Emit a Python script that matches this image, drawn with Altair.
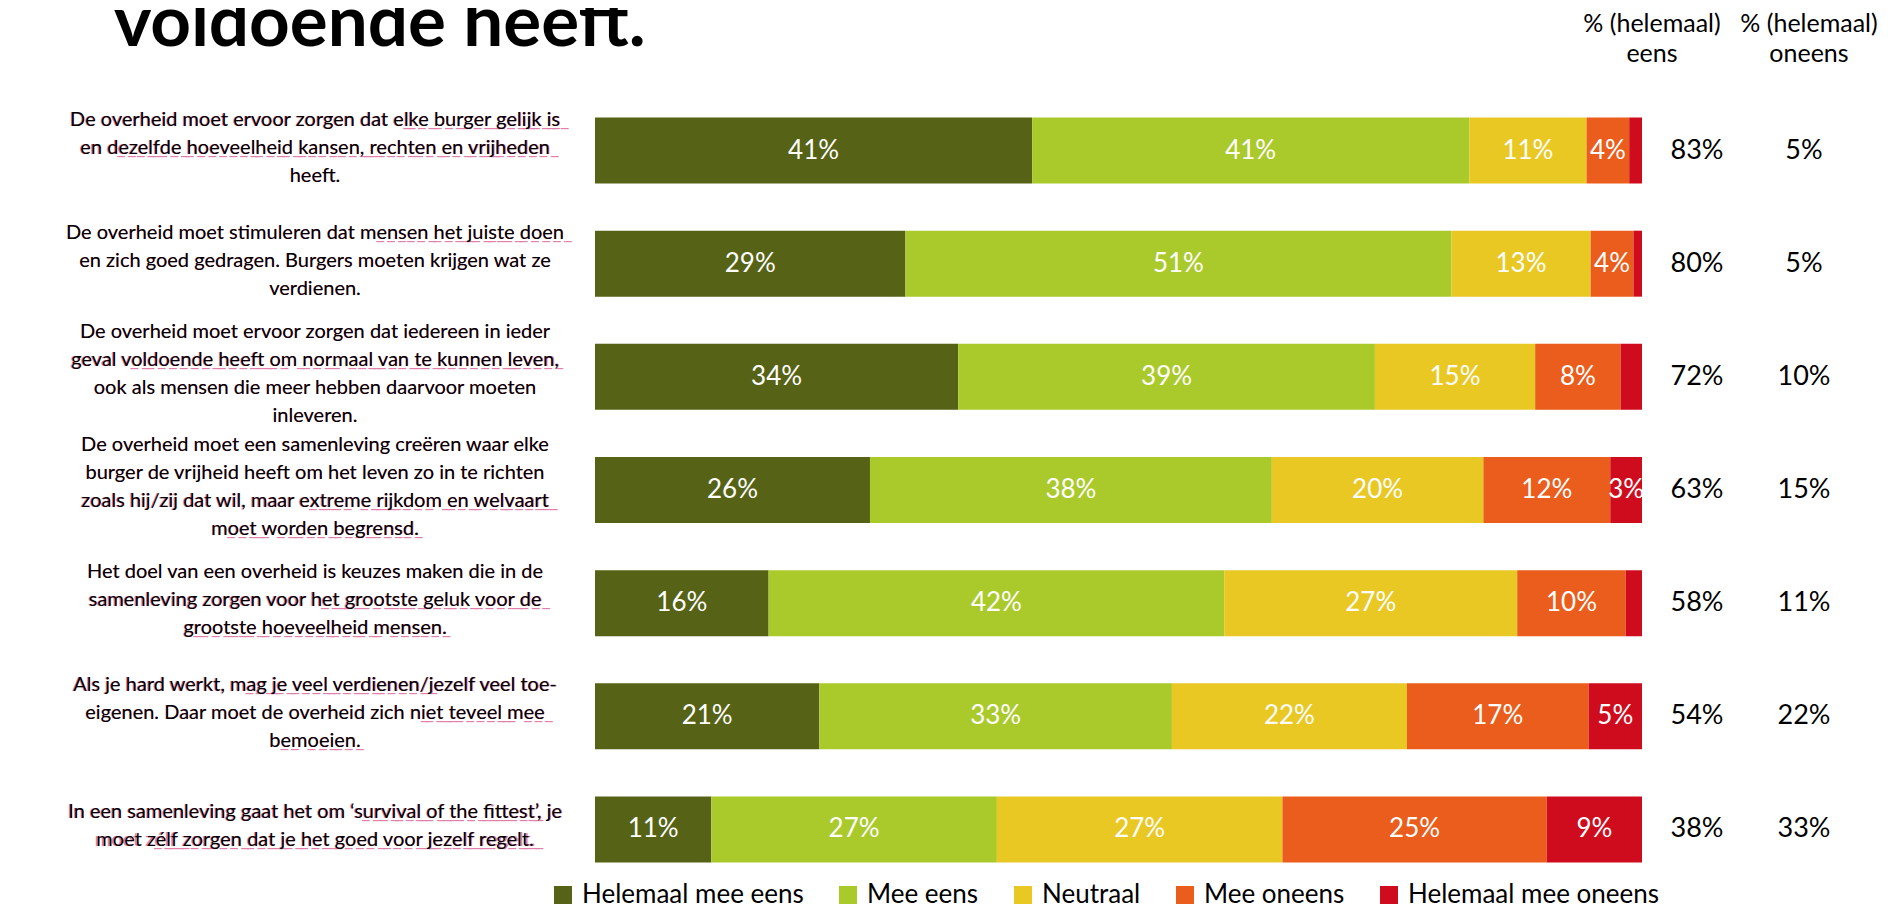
import altair as alt
import pandas as pd

# ---------------- data ----------------
categories = ["Helemaal mee eens", "Mee eens", "Neutraal", "Mee oneens", "Helemaal mee oneens"]
colors = ["#566216", "#AACA2C", "#E9C824", "#EA5D1C", "#CF0C1E"]

# Statement lines; text inside [ ] is underlined in pink
statements = [
    ["De overheid moet ervoor zorgen dat [elke burger gelijk is]",
     "en [dezelfde hoeveelheid kansen, rechten en vrijheden]",
     "heeft."],
    ["De overheid moet stimuleren dat [mensen het juiste doen]",
     "en zich goed gedragen. Burgers moeten krijgen wat ze",
     "verdienen."],
    ["De overheid moet ervoor zorgen dat iedereen in ieder",
     "geval [voldoende heeft om normaal van te kunnen leven],",
     "ook als mensen die meer hebben daarvoor moeten",
     "inleveren."],
    ["De overheid moet een samenleving creëren waar elke",
     "burger de vrijheid heeft om het leven zo in te richten",
     "zoals hij/zij dat wil, maar [extreme rijkdom en welvaart]",
     "[moet worden begrensd]."],
    ["Het doel van een overheid is keuzes maken die in de",
     "samenleving zorgen voor [het grootste geluk voor de]",
     "[grootste hoeveelheid mensen]."],
    ["Als je hard werkt, [mag je veel verdienen/]jezelf veel toe-",
     "eigenen. Daar moet de overheid zich [niet teveel mee]",
     "[bemoeien]."],
    ["In een samenleving gaat het om ‘[survival of the fittest]’, je",
     "moet [zélf zorgen dat je het goed voor jezelf regelt.]"],
]

helemaal_eens = [41, 29, 34, 26, 16, 21, 11]
mee_eens = [41, 51, 39, 38, 42, 33, 27]
neutraal = [11, 13, 15, 20, 27, 22, 27]
mee_oneens = [4, 4, 8, 12, 10, 17, 25]
helemaal_oneens = [1.2, 0.8, 2, 3, 1.5, 5, 9]

totaal_eens = [83, 80, 72, 63, 58, 54, 38]
totaal_oneens = [5, 5, 10, 15, 11, 22, 33]

header_eens = ["% (helemaal)", "eens"]
header_oneens = ["% (helemaal)", "oneens"]
title_text = "voldoende heeft."

FONT = "Lato"
LINE_H = 28

# ---------------- tables ----------------
series = [helemaal_eens, mee_eens, neutraal, mee_oneens, helemaal_oneens]
rows = []
for i in range(len(statements)):
    for j, cat in enumerate(categories):
        rows.append({"stmt": i, "cat": cat, "order": j, "value": series[j][i]})
df = pd.DataFrame(rows)


def plain(line):
    return line.replace("[", "").replace("]", "")


def underline(line):
    out, on = [], False
    for ch in line:
        if ch == "[":
            on = True
        elif ch == "]":
            on = False
        else:
            out.append(ch + ("\u0332" if on else ""))
    return "".join(out)


df_stmt = pd.DataFrame({
    "stmt": list(range(len(statements))),
    "n": [len(s) for s in statements],
    "lines": [[plain(l) for l in s] for s in statements],
    "ulines": [[underline(l) for l in s] for s in statements],
})
df_tot = pd.DataFrame({
    "stmt": list(range(len(statements))),
    "eens": [f"{v}%" for v in totaal_eens],
    "oneens": [f"{v}%" for v in totaal_oneens],
})

yscale = alt.Scale(paddingInner=0.417, paddingOuter=0.199)
Y = alt.Y("stmt:O", axis=None, scale=yscale)

stacked = alt.Chart(df).transform_stack(
    stack="value", groupby=["stmt"], as_=["x0", "x1"], offset="normalize",
    sort=[alt.SortField("order", "ascending")],
)

bars = stacked.mark_bar().encode(
    x=alt.X("x0:Q", axis=None, scale=alt.Scale(domain=[0, 1], nice=False)),
    x2="x1:Q",
    y=Y,
    color=alt.Color(
        "cat:N",
        scale=alt.Scale(domain=categories, range=colors),
        legend=alt.Legend(
            title=None, orient="none", legendX=-45, legendY=787,
            direction="horizontal", symbolType="square", symbolSize=324,
            symbolStrokeWidth=0, labelFontSize=26, labelFont=FONT,
            labelColor="#000000", columnPadding=31, labelOffset=6,
            labelLimit=600,
        ),
    ),
    order=alt.Order("order:Q"),
)

bar_labels = stacked.transform_filter("datum.value >= 3").transform_calculate(
    mid="(datum.x0 + datum.x1) / 2",
    lab="format(datum.value, 'd') + '%'",
).mark_text(color="white", fontSize=26, font=FONT).encode(
    x=alt.X("mid:Q"),
    y=Y,
    text="lab:N",
)

stmt_layers = []
for n in sorted(set(df_stmt["n"])):
    shift = -(n - 1) / 2 * LINE_H - 3
    base = alt.Chart(df_stmt).transform_filter(f"datum.n == {n}")
    stmt_layers.append(base.mark_text(
        align="center", baseline="middle", fontSize=20, font=FONT, lineHeight=LINE_H,
        color="#E27FAB", dy=shift,
    ).encode(x=alt.value(-280), y=Y, text="ulines"))
    stmt_layers.append(base.mark_text(
        align="center", baseline="middle", fontSize=20, font=FONT, lineHeight=LINE_H,
        color="#000000", dy=shift,
    ).encode(x=alt.value(-280), y=Y, text="lines"))

tot_eens = alt.Chart(df_tot).mark_text(
    align="center", baseline="middle", fontSize=27, font=FONT, color="#000000"
).encode(x=alt.value(1102), y=Y, text="eens:N")

tot_oneens = alt.Chart(df_tot).mark_text(
    align="center", baseline="middle", fontSize=27, font=FONT, color="#000000"
).encode(x=alt.value(1209), y=Y, text="oneens:N")

hdr = pd.DataFrame({"t": [header_eens, header_oneens], "k": [0, 1]})
headers = alt.Chart(hdr).transform_calculate(
    px="datum.k == 0 ? 1057 : 1214"
).mark_text(
    align="center", baseline="middle", fontSize=25, font=FONT, lineHeight=30, color="#000000"
).encode(x=alt.X("px:Q", scale=None), y=alt.value(-71), text="t")

title = alt.Chart(pd.DataFrame({"t": [title_text]})).mark_text(
    align="left", baseline="alphabetic", fontSize=71, font=FONT, fontWeight="bold", color="#000000"
).encode(x=alt.value(-481), y=alt.value(-49), text="t:N")

chart = alt.layer(
    bars, bar_labels, *stmt_layers, tot_eens, tot_oneens, headers, title
).properties(
    width=1047, height=790,
    autosize=alt.AutoSizeParams(type="none"),
    padding={"left": 587, "top": 87, "right": 238, "bottom": 24},
    background="white",
).configure_view(stroke=None)

chart.save("out.html", embed_options={"renderer": "svg", "actions": False})
